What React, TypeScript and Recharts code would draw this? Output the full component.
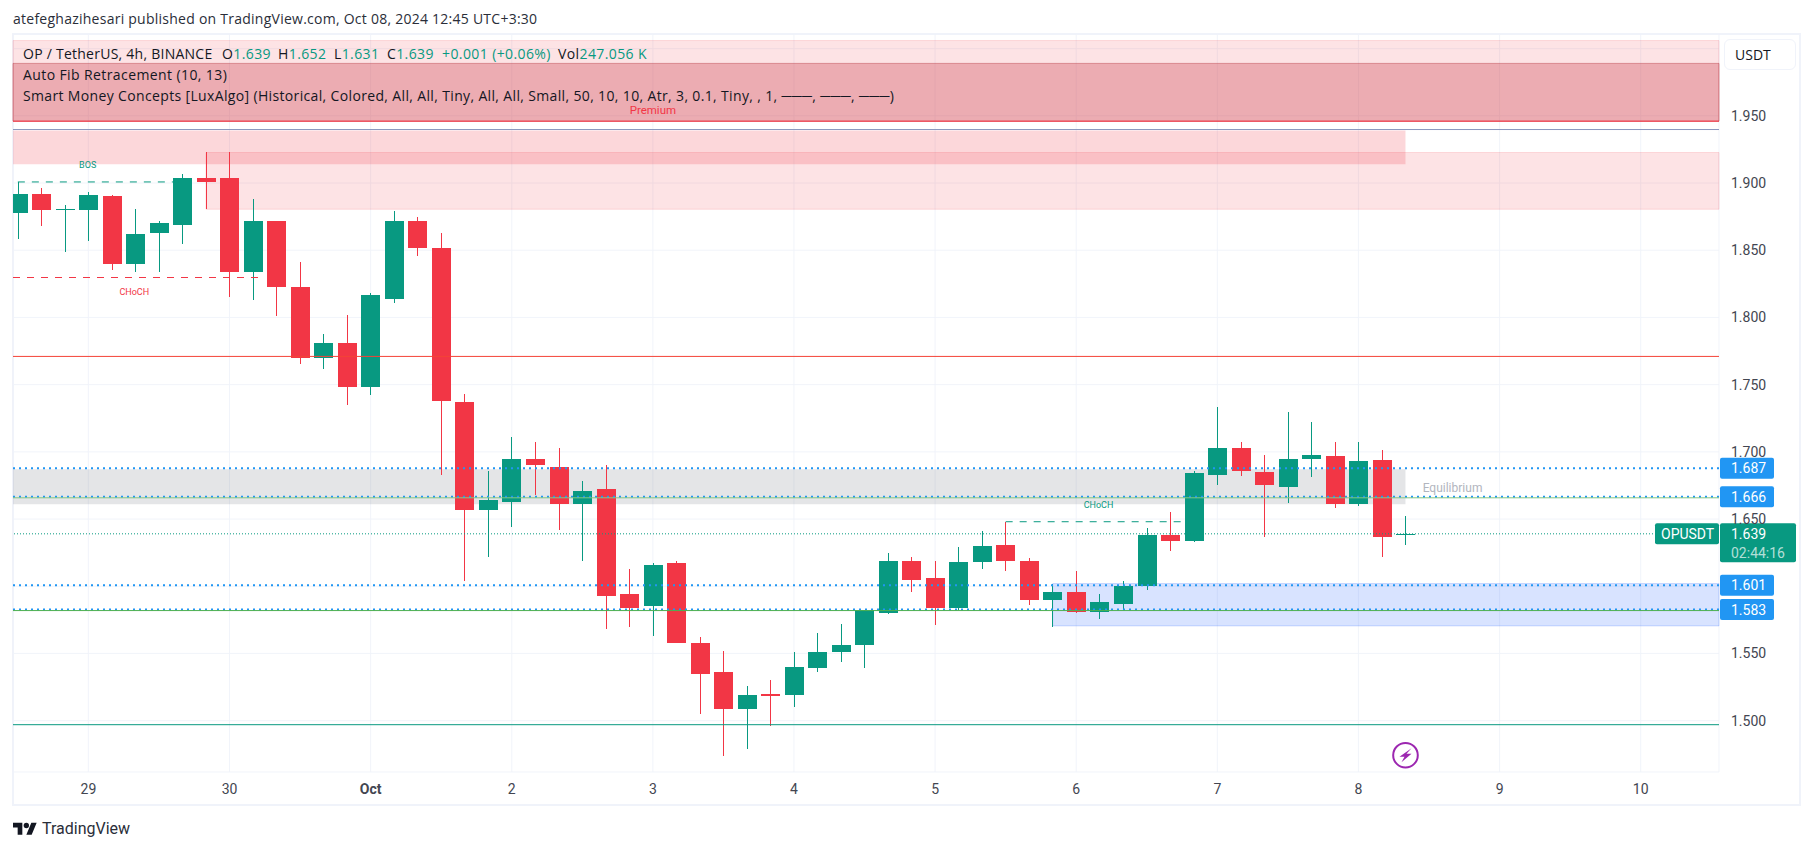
import {
  ComposedChart,
  Bar,
  XAxis,
  YAxis,
  CartesianGrid,
  ReferenceArea,
  ReferenceLine,
  ReferenceDot
} from 'recharts'

const UP = '#089981';
const DOWN = '#f23645';
const BLUE = '#2196f3';
const FONT = 'Roboto, sans-serif';
const LEGEND_FONT = '"Open Sans", sans-serif';

// 4h bars, index 0 = Sep 29 00:00
const barIndex = [-3, -2, -1, 0, 1, 2, 3, 4, 5, 6, 7, 8, 9, 10, 11, 12, 13, 14, 15, 16, 17, 18, 19, 20, 21, 22, 23, 24, 25, 26, 27, 28, 29, 30, 31, 32, 33, 34, 35, 36, 37, 38, 39, 40, 41, 42, 43, 44, 45, 46, 47, 48, 49, 50, 51, 52, 53, 54, 55, 56];
const opens = [1.878, 1.892, 1.880, 1.880, 1.890, 1.840, 1.863, 1.869, 1.904, 1.904, 1.834, 1.872, 1.8225, 1.770, 1.781, 1.748, 1.814, 1.872, 1.852, 1.737, 1.657, 1.6625, 1.695, 1.689, 1.661, 1.672, 1.594, 1.585, 1.617, 1.558, 1.536, 1.509, 1.5196, 1.519, 1.539, 1.551, 1.556, 1.580, 1.619, 1.606, 1.584, 1.618, 1.631, 1.619, 1.590, 1.596, 1.581, 1.587, 1.600, 1.638, 1.634, 1.683, 1.703, 1.685, 1.674, 1.6945, 1.697, 1.661, 1.694, 1.6385];
const highs = [1.901, 1.896, 1.884, 1.893, 1.891, 1.8805, 1.872, 1.9065, 1.923, 1.923, 1.888, 1.872, 1.841, 1.788, 1.802, 1.818, 1.879, 1.875, 1.863, 1.743, 1.686, 1.711, 1.707, 1.703, 1.678, 1.690, 1.613, 1.617, 1.619, 1.562, 1.552, 1.5256, 1.530, 1.551, 1.565, 1.572, 1.582, 1.625, 1.622, 1.619, 1.629, 1.641, 1.648, 1.621, 1.602, 1.611, 1.594, 1.604, 1.643, 1.655, 1.686, 1.733, 1.707, 1.698, 1.7295, 1.722, 1.707, 1.707, 1.701, 1.652];
const lows = [1.858, 1.868, 1.849, 1.857, 1.835, 1.834, 1.834, 1.855, 1.8805, 1.815, 1.813, 1.801, 1.765, 1.762, 1.735, 1.742, 1.811, 1.846, 1.683, 1.604, 1.622, 1.644, 1.668, 1.642, 1.619, 1.568, 1.570, 1.563, 1.558, 1.505, 1.474, 1.479, 1.496, 1.510, 1.536, 1.544, 1.539, 1.579, 1.596, 1.571, 1.582, 1.613, 1.611, 1.586, 1.570, 1.580, 1.576, 1.582, 1.597, 1.626, 1.633, 1.675, 1.682, 1.637, 1.662, 1.681, 1.658, 1.660, 1.622, 1.631];
const closes = [1.892, 1.880, 1.8805, 1.891, 1.840, 1.862, 1.870, 1.904, 1.901, 1.834, 1.872, 1.8225, 1.770, 1.781, 1.748, 1.8165, 1.872, 1.8515, 1.738, 1.657, 1.664, 1.695, 1.690, 1.661, 1.671, 1.593, 1.584, 1.616, 1.558, 1.535, 1.5085, 1.519, 1.518, 1.540, 1.551, 1.556, 1.582, 1.619, 1.605, 1.584, 1.618, 1.630, 1.6186, 1.590, 1.596, 1.581, 1.588, 1.600, 1.638, 1.634, 1.684, 1.703, 1.686, 1.675, 1.695, 1.698, 1.661, 1.693, 1.637, 1.639];

const dayTicks = [0, 6, 12, 18, 24, 30, 36, 42, 48, 54, 60, 66];
const dayLabels = ['29', '30', 'Oct', '2', '3', '4', '5', '6', '7', '8', '9', '10'];
const priceTicks = [1.5, 1.55, 1.6, 1.65, 1.7, 1.75, 1.8, 1.85, 1.9, 1.95, 2.0];
const hiddenPriceTicks = [1.6, 2.0];
const tagLevels = [1.6877, 1.6665, 1.6007, 1.5827];
const tagLabels = ['1.687', '1.666', '1.601', '1.583'];
const lastPrice = 1.639;

const chartData = barIndex.map((i, n) => ({
  i,
  range: [lows[n], highs[n]],
  open: opens[n],
  close: closes[n]
}));

function Candle(props: any) {
  const { x, y, width, height, payload } = props;
  const [low, high] = payload.range;
  const toY = (p: number) => y + ((high - p) / (high - low)) * height;
  const color = payload.close >= payload.open ? UP : DOWN;
  const cx = Math.round(x + width / 2);
  const top = toY(Math.max(payload.open, payload.close));
  const bottom = toY(Math.min(payload.open, payload.close));
  return (
    <g shapeRendering="crispEdges">
      <rect x={cx - 0.5} y={y} width={1} height={height} fill={color} />
      <rect x={cx - 9.5} y={top} width={19} height={Math.max(bottom - top, 1)} fill={color} />
    </g>
  );
}

function PriceTag(props: any) {
  const { viewBox, value } = props;
  const left = viewBox.x + viewBox.width + 1;
  return (
    <g>
      <rect x={left} y={viewBox.y - 10.5} width={54} height={21} rx={2} fill={BLUE} />
      <text x={left + 11} y={viewBox.y + 5} fontSize={14} fontFamily={FONT} fill="#fff">{value}</text>
    </g>
  );
}

function LastPriceTag(props: any) {
  const { viewBox } = props;
  const right = viewBox.x + viewBox.width;
  return (
    <g>
      <rect x={right - 64} y={viewBox.y - 10.5} width={64} height={21} rx={2} fill={UP} />
      <text x={right - 58} y={viewBox.y + 5} fontSize={14} fontFamily={FONT} fill="#fff">OPUSDT</text>
      <rect x={right + 1} y={viewBox.y - 10.5} width={76} height={39} rx={2} fill={UP} />
      <text x={right + 12} y={viewBox.y + 5} fontSize={14} fontFamily={FONT} fill="#fff">{lastPrice.toFixed(3)}</text>
      <text x={right + 12} y={viewBox.y + 24} fontSize={14} fontFamily={FONT} fill="#fff" fillOpacity={0.7}>02:44:16</text>
    </g>
  );
}

function BoltIcon(props: any) {
  const { cx, cy } = props;
  return (
    <g transform={`translate(${cx},${cy})`}>
      <circle r={12.3} fill="#fff" stroke="#9c27b0" strokeWidth={2} />
      <path d="M6 -7 L-6 1.5 L-1 1.5 L-4 7 L6 -1.5 L1 -1.5 Z" fill="#9c27b0" />
    </g>
  );
}

function DayTick(props: any) {
  const { x, y, payload } = props;
  const label = dayLabels[dayTicks.indexOf(payload.value)];
  return (
    <text x={x} y={y} textAnchor="middle" fontSize={14} fontFamily={FONT} fontWeight={label === 'Oct' ? 700 : 400} fill="#434651">
      {label}
    </text>
  );
}

function PriceTick(props: any) {
  const { x, y, payload } = props;
  if (hiddenPriceTicks.includes(payload.value)) return null;
  return (
    <text x={x} y={y + 5} fontSize={14} fontFamily={FONT} fill="#434651">
      {payload.value.toFixed(3)}
    </text>
  );
}

function SmallNote({ x, y, text, color, size }: { x: number; y: number; text: string; color: string; size: number }) {
  return (
    <ReferenceDot
      x={x}
      y={y}
      r={0}
      fill="none"
      stroke="none"
      label={{ value: text, position: 'center', fill: color, fontSize: size, fontFamily: FONT }}
    />
  );
}

const textAt = (left: number, top: number, color = '#131722', spacing = 0.4): any => ({
  position: 'absolute',
  left,
  top,
  color,
  whiteSpace: 'nowrap',
  lineHeight: '20px',
  letterSpacing: spacing
});

export default function App() {
  return (
    <div style={{ position: 'absolute', left: 0, top: 0, width: 1814, height: 851, background: '#fff', fontFamily: LEGEND_FONT, fontSize: 14, overflow: 'hidden' }}>
      <div style={textAt(13, 9, '#2a2e39', 0.25)}>
        atefeghazihesari published on TradingView.com, Oct 08, 2024 12:45 UTC+3:30
      </div>
      <div style={{ position: 'absolute', left: 12, top: 33, width: 1785, height: 769, border: '2px solid #f0f3fa' }} />

      <div style={{ position: 'absolute', left: 0, top: 0 }}>
        <ComposedChart
          width={1814}
          height={851}
          data={chartData}
          margin={{ top: 34.5, right: 19, bottom: 45, left: 13 }}
        >
          <CartesianGrid stroke="#f0f3fa" strokeOpacity={0.9} />
          <XAxis
            dataKey="i"
            type="number"
            domain={[-3.206, 69.33]}
            ticks={dayTicks}
            interval={0}
            allowDataOverflow
            height={34}
            axisLine={false}
            tickLine={false}
            tickSize={0}
            tickMargin={22}
            tick={<DayTick />}
          />
          <YAxis
            orientation="right"
            type="number"
            domain={[1.4618, 2.0105]}
            ticks={priceTicks}
            interval={0}
            allowDataOverflow
            width={76}
            axisLine={false}
            tickLine={false}
            tickSize={0}
            tickMargin={12}
            tick={<PriceTick />}
          />

          {/* premium / supply zones */}
          <ReferenceArea y1={1.946} y2={2.006} fill={DOWN} fillOpacity={0.14} stroke={DOWN} strokeOpacity={0.15} />
          <ReferenceArea y1={1.946} y2={1.989} fill="#c8303c" fillOpacity={0.3} stroke="#b22833" strokeOpacity={0.4} />
          <ReferenceArea x2={56} y1={1.914} y2={1.939} fill={DOWN} fillOpacity={0.2} />
          <ReferenceArea x1={5} y1={1.8805} y2={1.9227} fill={DOWN} fillOpacity={0.14} stroke={DOWN} strokeOpacity={0.15} />
          <ReferenceArea x2={56} y1={1.661} y2={1.687} fill="#787b86" fillOpacity={0.2} />
          <ReferenceArea x1={41} y1={1.5705} y2={1.602} fill="#2962ff" fillOpacity={0.18} stroke="#2962ff" strokeOpacity={0.2} />

          {/* fib levels */}
          <ReferenceLine y={1.946} stroke={DOWN} strokeWidth={1} />
          <ReferenceLine y={1.9398} stroke="#8b97bd" strokeWidth={1} />
          <ReferenceLine y={1.771} stroke="#f44336" strokeWidth={1} />
          <ReferenceLine y={1.497} stroke={UP} strokeWidth={1} />

          {tagLevels.map((p, n) => (
            <ReferenceLine
              key={p}
              y={p}
              stroke={BLUE}
              strokeWidth={2}
              strokeDasharray="2 4"
              label={<PriceTag value={tagLabels[n]} />}
            />
          ))}
          <ReferenceLine y={1.6658} stroke="#81c784" strokeWidth={1} />
          <ReferenceLine y={1.5819} stroke="#4caf50" strokeWidth={1} />
          <ReferenceLine y={lastPrice} stroke={UP} strokeWidth={1} strokeDasharray="1 2" label={<LastPriceTag />} />

          {/* structure breaks */}
          <ReferenceLine segment={[{ x: -3, y: 1.9008 }, { x: 4, y: 1.9008 }]} stroke={UP} strokeDasharray="7 7" />
          <ReferenceLine segment={[{ x: -3.206, y: 1.8297 }, { x: 7.4, y: 1.8297 }]} stroke={DOWN} strokeDasharray="7 7" />
          <ReferenceLine segment={[{ x: 39, y: 1.648 }, { x: 46.6, y: 1.648 }]} stroke={UP} strokeDasharray="7 7" />

          <Bar dataKey="range" barSize={19} isAnimationActive={false} shape={<Candle />} />

          {SmallNote({ x: -0.03, y: 1.9132, text: 'BOS', color: UP, size: 9 })}
          {SmallNote({ x: 1.95, y: 1.8187, text: 'CHoCH', color: DOWN, size: 9 })}
          {SmallNote({ x: 42.95, y: 1.6603, text: 'CHoCH', color: UP, size: 9 })}
          {SmallNote({ x: 24, y: 1.9541, text: 'Premium', color: DOWN, size: 11.5 })}
          {SmallNote({ x: 58, y: 1.6733, text: 'Equilibrium', color: '#b2b5be', size: 12 })}
          <ReferenceDot x={56} y={1.4743} r={12} shape={<BoltIcon />} />
        </ComposedChart>
      </div>

      <div style={textAt(23, 44, '#131722', 0.25)}>OP / TetherUS, 4h, BINANCE</div>
      <div style={textAt(222, 44)}>O<span style={{ color: UP }}>1.639</span></div>
      <div style={textAt(278, 44)}>H<span style={{ color: UP }}>1.652</span></div>
      <div style={textAt(334, 44)}>L<span style={{ color: UP }}>1.631</span></div>
      <div style={textAt(387, 44)}>C<span style={{ color: UP }}>1.639</span></div>
      <div style={textAt(442, 44, UP)}>+0.001 (+0.06%)</div>
      <div style={textAt(558, 44)}>Vol<span style={{ color: UP }}>247.056 K</span></div>
      <div style={textAt(23, 65)}>Auto Fib Retracement (10, 13)</div>
      <div style={textAt(23, 86, '#131722', 0.35)}>
        Smart Money Concepts [LuxAlgo] (Historical, Colored, All, All, Tiny, All, All, Small, 50, 10, 10, Atr, 3, 0.1, Tiny, , 1, ───, ───, ───)
      </div>

      <div style={{ position: 'absolute', left: 1724, top: 39, width: 70, height: 29, border: '1.5px solid #f0f3fa', borderRadius: 6, background: '#fff', color: '#131722', lineHeight: '29px', textIndent: 10 }}>
        USDT
      </div>

      <svg width={24} height={19} viewBox="0 0 36 28" style={{ position: 'absolute', left: 13, top: 820 }}>
        <path d="M14 22H7V11H0V4h14v18zM28 22h-8l7.5-18h8L28 22z" fill="#131722" />
        <circle cx={20} cy={8} r={4} fill="#131722" />
      </svg>
      <div style={{ ...textAt(42, 819, '#2a2e39', 0), fontFamily: FONT, fontSize: 16 }}>TradingView</div>
    </div>
  );
}
